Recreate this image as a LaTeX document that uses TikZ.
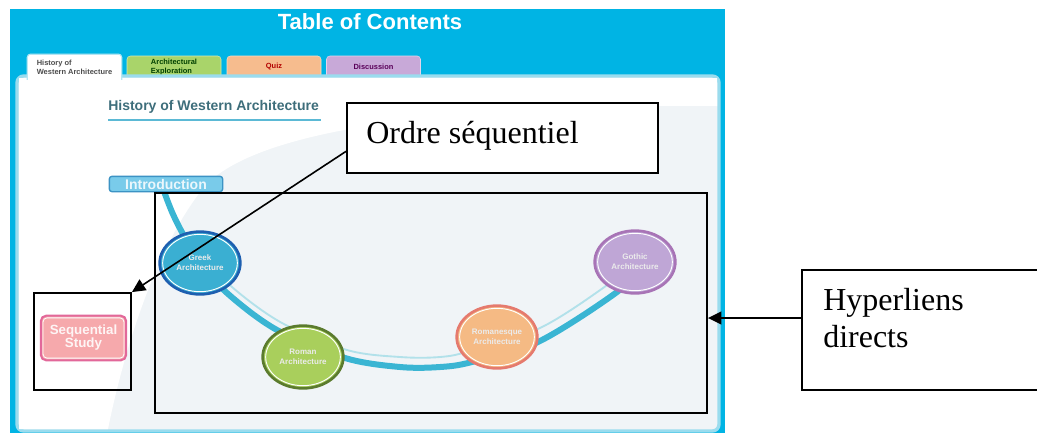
\documentclass[tikz,border=0pt]{standalone}
\usepackage{fontspec}
\setmainfont{Liberation Serif}
\setsansfont{Liberation Sans}
\usetikzlibrary{arrows.meta,shapes.geometric,fit}

\definecolor{skyblue}{HTML}{00B4E4}
\definecolor{panelgray}{HTML}{F0F4F7}
\definecolor{panelrim}{HTML}{9ADCEE}
\definecolor{greekfill}{HTML}{3AAFD2}
\definecolor{greekrim}{HTML}{1E5FB0}
\definecolor{romanfill}{HTML}{A9CF5C}
\definecolor{romanrim}{HTML}{5B7B2E}
\definecolor{rmqfill}{HTML}{F5BA84}
\definecolor{rmqrim}{HTML}{E57A6E}
\definecolor{gothfill}{HTML}{BFA6D6}
\definecolor{gothrim}{HTML}{A874B6}
\definecolor{arcblue}{HTML}{3AB5D3}
\definecolor{arclight}{HTML}{B2E1EA}
\definecolor{seqfill}{HTML}{F6A9AC}
\definecolor{seqrim}{HTML}{E2689A}
\definecolor{introfill}{HTML}{79CBEA}
\definecolor{introrim}{HTML}{3C93C4}
\definecolor{headtext}{HTML}{3E6E7B}
\definecolor{headline}{HTML}{5BB9D5}
\definecolor{tabgreen}{HTML}{A9D46A}
\definecolor{taborange}{HTML}{F6BC8E}
\definecolor{tabpurple}{HTML}{C8A9D8}

\tikzset{
  tab/.style={rounded corners=2.5pt, minimum width=70.5pt, minimum height=16.5pt,
    inner sep=0pt, align=left, font=\sffamily\bfseries\fontsize{5.6}{6.8}\selectfont},
  circ/.style={ellipse, minimum width=60.5pt, minimum height=47pt, line width=2pt,
    inner sep=0pt, align=center, text=white!92!black,
    font=\sffamily\bfseries\fontsize{6}{7.5}\selectfont},
  ring/.style={white, line width=0.7pt},
  framebox/.style={draw=black, line width=1.4pt, inner sep=0pt},
  annotext/.style={font=\fontsize{24}{28}\selectfont, inner sep=0pt},
  pointer/.style={draw=black, line width=1.2pt, -{Triangle[length=10pt,width=9.5pt]}},
}

\begin{document}
\begin{tikzpicture}[x=0.75pt,y=-0.75pt]
\useasboundingbox (0,0) rectangle (1037,433);
\clip (0,0) rectangle (1037,433);

% page background of the screenshot
\fill[skyblue] (10,9) rectangle (725,433);
\node[text=white, font=\sffamily\bfseries\fontsize{16.5}{18}\selectfont] (toc) at (370,22) {Table of Contents};

% inactive tabs
\node[tab, fill=tabgreen, draw=tabgreen!50!white, text=black!75!green] (tabexp) at (174,67) {Architectural\\Exploration};
\node[tab, fill=taborange, draw=taborange!50!white, text=red!70!black] (tabquiz) at (274,67) {Quiz};
\node[tab, fill=tabpurple, draw=tabpurple!50!white, text=violet!70!black] (tabdisc) at (373.5,67) {Discussion};

% content panel
\draw[panelrim, line width=2.5pt, fill=panelgray, rounded corners=5pt] (17,76) rectangle (719,431);
\fill[white] (19,78) -- (717,78) -- (717,106)
  .. controls (480,104) and (262,124) .. (205,186)
  .. controls (160,240) and (126,340) .. (108,429) -- (19,429) -- cycle;

% active tab
\node[tab, fill=white, minimum height=19pt, text=black!70] (tabhist) at (74.5,67) {History of\\Western Architecture};
\draw[panelrim!70!white, line width=0.8pt, rounded corners=2.5pt]
  (tabhist.south west) -- (tabhist.north west) -- (tabhist.north east) -- (tabhist.south east);

% section heading
\node[anchor=west, inner sep=0pt, text=headtext, font=\sffamily\bfseries\fontsize{10.5}{12}\selectfont] (heading) at (108,107) {History of Western Architecture};
\draw[headline, line width=1.6pt] (108,120) -- (321,120);

% timeline arc
\draw[arclight, line width=1.4pt] plot[smooth, tension=0.55] coordinates
  {(205,256) (232,287) (282,323) (347,350) (400,357) (440,357) (470,351) (540,328) (603,288) (625,268)};
\draw[arcblue, line width=4.5pt] plot[smooth, tension=0.55] coordinates
  {(162,186) (172,212) (183,234) (200,262) (227,293) (277,330) (345,358) (400,367) (440,367) (472,362) (538,342) (617,292) (638,268)};

% buttons
\node[draw=introrim, line width=1pt, fill=introfill, rounded corners=2pt, minimum width=85pt, minimum height=11.5pt,
  inner sep=0pt, text=white!85!introfill, font=\sffamily\bfseries\fontsize{10.5}{12}\selectfont] (intro) at (166,184) {Introduction};

\node[circ, fill=greekfill, draw=greekrim] (greek) at (200,263) {Greek\\Architecture};
\node[circ, fill=romanfill, draw=romanrim] (roman) at (303,357) {Roman\\Architecture};
\node[circ, fill=rmqfill, draw=rmqrim] (rmq) at (497,337) {Romanesque\\Architecture};
\node[circ, fill=gothfill, draw=gothrim] (goth) at (635,262) {Gothic\\Architecture};
\foreach \c in {greek,roman,rmq,goth}
  \draw[ring] (\c.center) ellipse [x radius=28pt, y radius=21.5pt];

\node[draw=seqrim, line width=1.5pt, fill=seqfill, rounded corners=4pt, minimum width=64pt, minimum height=33.5pt,
  inner sep=0pt, align=center, text=white!88!seqfill, font=\sffamily\bfseries\fontsize{10}{9.75}\selectfont] (seq) at (83.5,338) {Sequential\\Study};
\draw[white, line width=0.6pt, rounded corners=3pt]
  ([shift={(2.4pt,-2.4pt)}]seq.north west) rectangle ([shift={(-2.4pt,2.4pt)}]seq.south east);

% annotation frames
\node[framebox, fit={(155,193)(707,413)}] (links) {};
\node[framebox, fit={(34,293)(131,390)}] (seqframe) {};
\node[framebox, fill=white, fit={(347,103)(658,173)}] (ordre) {};
\node[annotext, anchor=base west] (ordretext) at (366,143) {Ordre séquentiel};
\node[framebox, fill=white, fit={(802,270)(1060,390)}] (hyper) {};
\node[annotext, anchor=base west] (hypertext1) at (823,310) {Hyperliens};
\node[annotext, anchor=base west] (hypertext2) at (823,347) {directs};

% annotation arrows
\draw[pointer] ([yshift=-10pt]ordre.west) -- (seqframe.north east);
\coordinate (hyperout) at ([yshift=9pt]hyper.west);
\draw[pointer] (hyperout) -- (hyperout -| links.east);
\end{tikzpicture}
\end{document}
